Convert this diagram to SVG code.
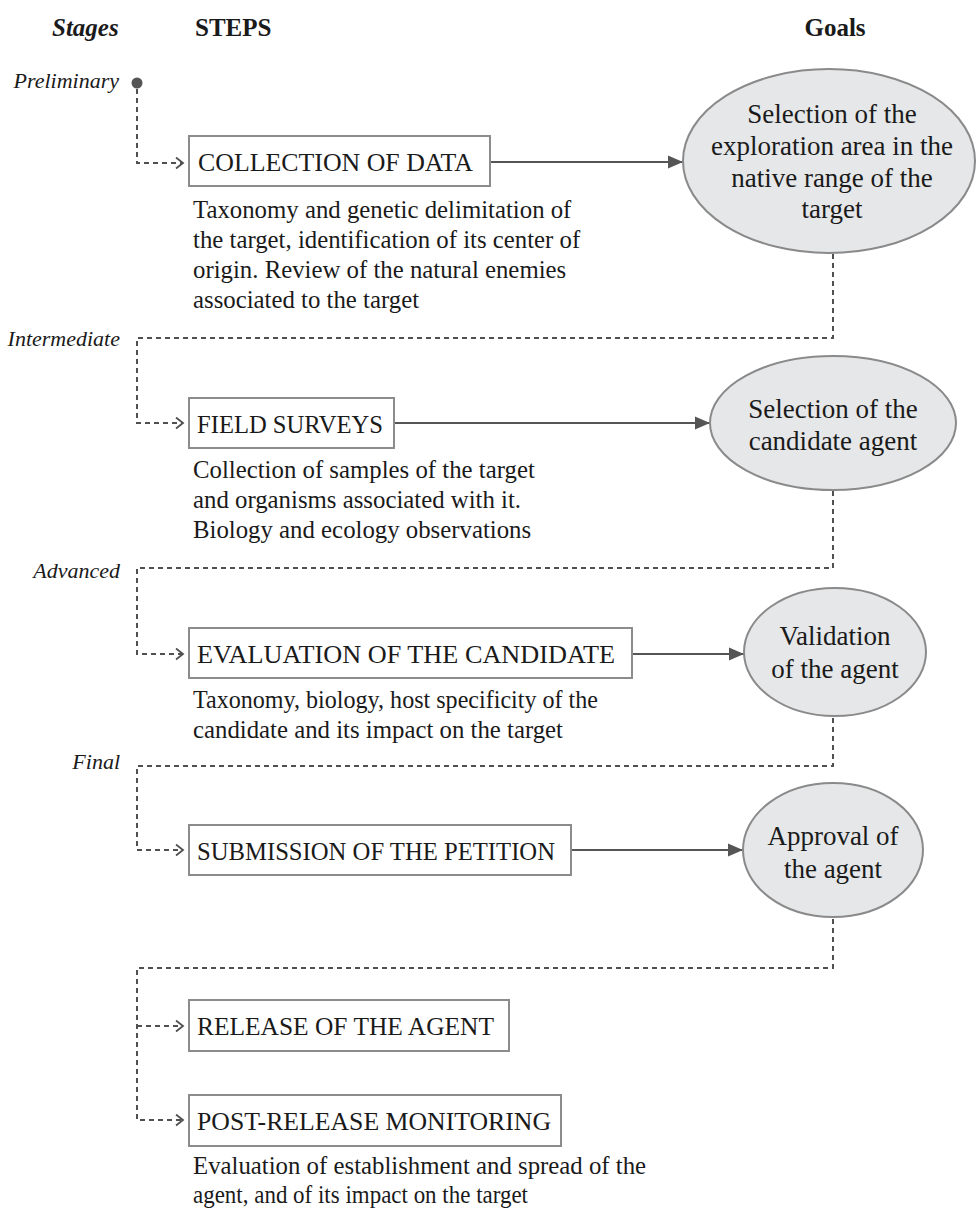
<svg xmlns="http://www.w3.org/2000/svg" width="976" height="1209" viewBox="0 0 976 1209">
<style>
text{font-family:"Liberation Serif","Times New Roman",serif;fill:#1a1a1a}
.hd{font-size:25px;font-weight:bold}
.stage{font-size:22px;font-style:italic;text-anchor:end}
.box{fill:#fff;stroke:#8c8c8c;stroke-width:2}
.lbl{font-size:26px}
.desc{font-size:24.8px}
.goal{fill:#e6e7e8;stroke:#8a8a8a;stroke-width:2}
.gt{font-size:27px;text-anchor:middle}
.dash{fill:none;stroke:#505050;stroke-width:2;stroke-dasharray:5 4}
.solid{fill:none;stroke:#555;stroke-width:2.2}
</style>
<defs>
<marker id="open" markerUnits="userSpaceOnUse" markerWidth="14" markerHeight="14" refX="9" refY="6" orient="auto">
<path d="M2,0.5 L9,6 L2,11.5" fill="none" stroke="#505050" stroke-width="1.8"/>
</marker>
<marker id="fill" markerUnits="userSpaceOnUse" markerWidth="18" markerHeight="14" refX="15" refY="7" orient="auto">
<path d="M0,0.5 L15,7 L0,13.5 Z" fill="#555"/>
</marker>
</defs>

<g id="headers">
<text class="hd" x="52" y="36" font-style="italic">Stages</text>
<text class="hd" x="195" y="36">STEPS</text>
<text class="hd" x="835" y="36" text-anchor="middle">Goals</text>
</g>

<g id="stages">
<text class="stage" x="119" y="88">Preliminary</text>
<text class="stage" x="120" y="346">Intermediate</text>
<text class="stage" x="120" y="578">Advanced</text>
<text class="stage" x="120" y="769">Final</text>
<circle cx="137" cy="83" r="5.5" fill="#555"/>
</g>

<g id="connectors">
<path class="dash" d="M137,89 V163 H183" marker-end="url(#open)"/>
<path class="dash" d="M833,254 V338 H137 V423 H183" marker-end="url(#open)"/>
<path class="dash" d="M833,491 V568 H137 V654 H183" marker-end="url(#open)"/>
<path class="dash" d="M833,718 V766 H137 V850 H183" marker-end="url(#open)"/>
<path class="dash" d="M833,919 V968 H137 V1120 H183" marker-end="url(#open)"/>
<path class="dash" d="M137,1026 H183" marker-end="url(#open)"/>
<path class="solid" d="M491,162 H683" marker-end="url(#fill)"/>
<path class="solid" d="M395,423 H710" marker-end="url(#fill)"/>
<path class="solid" d="M633,654 H744" marker-end="url(#fill)"/>
<path class="solid" d="M572,850 H743" marker-end="url(#fill)"/>
</g>

<g id="step-collection">
<rect class="box" x="189" y="136" width="301" height="50"/>
<text class="lbl" x="198" y="171" textLength="275" lengthAdjust="spacingAndGlyphs">COLLECTION OF DATA</text>
<text class="desc" x="193" y="218">Taxonomy and genetic delimitation of</text>
<text class="desc" x="193" y="248">the target, identification of its center of</text>
<text class="desc" x="193" y="278">origin. Review of the natural enemies</text>
<text class="desc" x="193" y="308">associated to the target</text>
</g>

<g id="goal-exploration">
<ellipse class="goal" cx="829" cy="161" rx="146" ry="92"/>
<text class="gt" x="832" y="123">Selection of the</text>
<text class="gt" x="832" y="155">exploration area in the</text>
<text class="gt" x="832" y="187">native range of the</text>
<text class="gt" x="832" y="218">target</text>
</g>

<g id="step-field">
<rect class="box" x="189" y="398" width="205" height="50"/>
<text class="lbl" x="197" y="433" textLength="186" lengthAdjust="spacingAndGlyphs">FIELD SURVEYS</text>
<text class="desc" x="193" y="478">Collection of samples of the target</text>
<text class="desc" x="193" y="508">and organisms associated with it.</text>
<text class="desc" x="193" y="538">Biology and ecology observations</text>
</g>

<g id="goal-candidate">
<ellipse class="goal" cx="833" cy="423" rx="123" ry="67"/>
<text class="gt" x="833" y="418">Selection of the</text>
<text class="gt" x="833" y="450">candidate agent</text>
</g>

<g id="step-evaluation">
<rect class="box" x="189" y="628" width="443" height="50"/>
<text class="lbl" x="197" y="663" textLength="418" lengthAdjust="spacingAndGlyphs">EVALUATION OF THE CANDIDATE</text>
<text class="desc" x="193" y="708" textLength="405" lengthAdjust="spacingAndGlyphs">Taxonomy, biology, host specificity of the</text>
<text class="desc" x="193" y="738">candidate and its impact on the target</text>
</g>

<g id="goal-validation">
<ellipse class="goal" cx="835" cy="652" rx="91" ry="64"/>
<text class="gt" x="835" y="645">Validation</text>
<text class="gt" x="835" y="678">of the agent</text>
</g>

<g id="step-submission">
<rect class="box" x="189" y="825" width="382" height="50"/>
<text class="lbl" x="197" y="860" textLength="358" lengthAdjust="spacingAndGlyphs">SUBMISSION OF THE PETITION</text>
</g>

<g id="goal-approval">
<ellipse class="goal" cx="833" cy="850" rx="90" ry="67"/>
<text class="gt" x="833" y="845">Approval of</text>
<text class="gt" x="833" y="878">the agent</text>
</g>

<g id="step-release">
<rect class="box" x="189" y="1000" width="320" height="51"/>
<text class="lbl" x="197" y="1035" textLength="297" lengthAdjust="spacingAndGlyphs">RELEASE OF THE AGENT</text>
</g>

<g id="step-monitoring">
<rect class="box" x="189" y="1095" width="372" height="51"/>
<text class="lbl" x="197" y="1130" textLength="354" lengthAdjust="spacingAndGlyphs">POST-RELEASE MONITORING</text>
<text class="desc" x="193" y="1174">Evaluation of establishment and spread of the</text>
<text class="desc" x="193" y="1203" textLength="335" lengthAdjust="spacingAndGlyphs">agent, and of its impact on the target</text>
</g>
</svg>
